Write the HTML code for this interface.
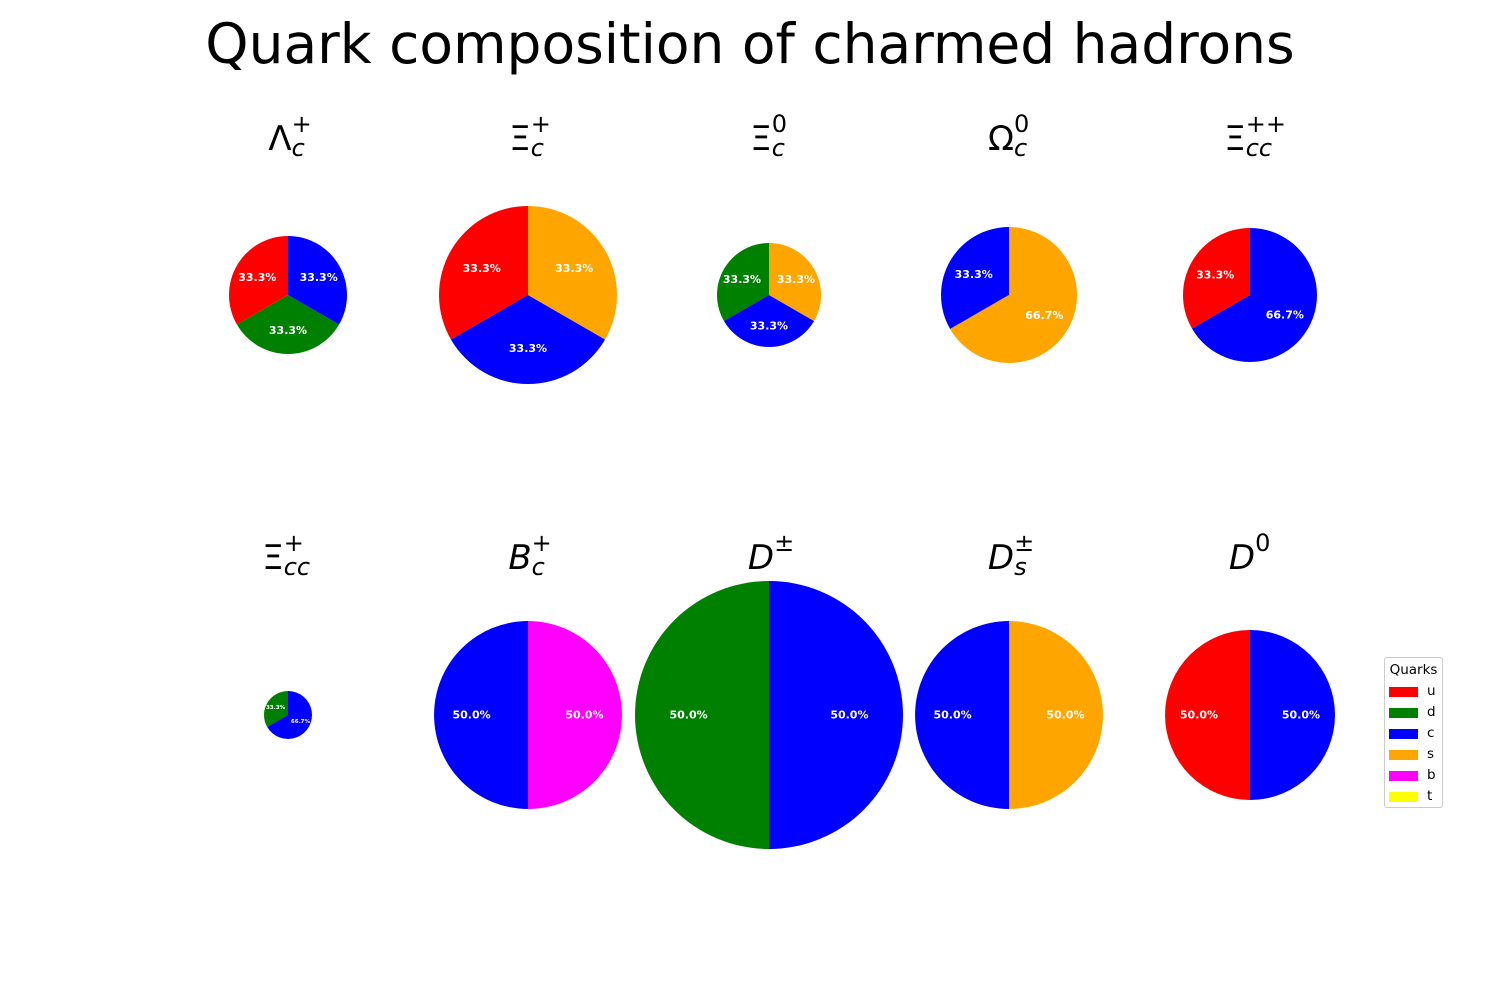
<!DOCTYPE html>
<html><head><meta charset="utf-8"><style>
body{margin:0;background:#fff;width:1500px;height:1000px;overflow:hidden;position:relative;font-family:"DejaVu Sans","Liberation Sans",sans-serif}
#title{position:absolute;left:0;width:1500px;top:12px;text-align:center;font-size:55px;color:#000}
.ht{position:absolute;width:200px;text-align:center;font-size:34px;color:#000;line-height:1}
.ht i{font-style:italic}
.ht .sup{position:absolute;top:-10px;font-size:24px}
.ht .sub{position:absolute;top:14px;font-size:24px;font-style:italic}
#legend{position:absolute;left:1384px;top:657px;width:57px;height:149px;border:1px solid #ccc;border-radius:3px;background:#fff;font-size:13.5px}
.le{position:absolute;left:4px;height:12px}
.le span.p{position:absolute;left:0;top:2px;width:29px;height:10px}
.le span.t{position:absolute;left:38px;top:-2px}
</style></head><body>
<div id="title">Quark composition of charmed hadrons</div>
<svg id="pies" width="1500" height="1000" style="position:absolute;left:0;top:0"></svg>
<div id="titles"></div>
<div id="legend">
<div style="position:absolute;left:0;width:57px;top:4px;text-align:center">Quarks</div>
</div>
<script>
const quarkNames=['u','d','c','s','b','t'];
const quarkColors=['#ff0000','#008000','#0000ff','#ffa500','#ff00ff','#ffff00'];
const hadronNames=['lambda-c-plus','xi-c-plus','xi-c-zero','omega-c-zero','xi-cc-plusplus','xi-cc-plus','b-c-plus','d-plusminus','d-s-plusminus','d-zero'];
const hadronTitles=['&Lambda;<span class="sup">+</span><span class="sub">c</span>','&Xi;<span class="sup">+</span><span class="sub">c</span>','&Xi;<span class="sup">0</span><span class="sub">c</span>','&Omega;<span class="sup">0</span><span class="sub">c</span>','&Xi;<span class="sup">++</span><span class="sub">cc</span>','&Xi;<span class="sup">+</span><span class="sub">cc</span>','<i>B</i><span class="sup">+</span><span class="sub">c</span>','<i>D</i><span class="sup">&plusmn;</span>','<i>D</i><span class="sup">&plusmn;</span><span class="sub">s</span>','<i>D</i><span class="sup">0</span>'];
const sliceQuarks=[[0,1,2],[0,2,3],[1,2,3],[2,3],[0,2],[1,2],[2,4],[1,2],[2,3],[0,2]];
const sliceCounts=[[1,1,1],[1,1,1],[1,1,1],[1,2],[1,2],[1,2],[1,1],[1,1],[1,1],[1,1]];
const pieSizes=[59,89,52,68,67,24,94,134,94,85];
const colX=[288,528,769,1009,1250], rowY=[295,715], titleY=[122,541];
const svg=document.getElementById('pies'),NS='http://www.w3.org/2000/svg';
hadronNames.forEach((name,h)=>{
  const cx=colX[h%5],cy=rowY[Math.floor(h/5)],r=pieSizes[h];
  const counts=sliceCounts[h],tot=counts.reduce((a,b)=>a+b,0);
  let a0=90;
  const g=document.createElementNS(NS,'g');
  
  
  svg.appendChild(g);
  counts.forEach((c,i)=>{
    const sweep=360*c/tot,a1=a0+sweep;
    const rad=d=>d*Math.PI/180;
    const x0=cx+r*Math.cos(rad(a0)),y0=cy-r*Math.sin(rad(a0));
    const x1=cx+r*Math.cos(rad(a1)),y1=cy-r*Math.sin(rad(a1));
    const p=document.createElementNS(NS,'path');
    p.setAttribute('d',`M${cx},${cy}L${x0},${y0}A${r},${r} 0 ${sweep>180?1:0} 0 ${x1},${y1}Z`);
    p.setAttribute('fill',quarkColors[sliceQuarks[h][i]]);
    
    
    g.appendChild(p);
    const m=rad((a0+a1)/2);
    const t=document.createElementNS(NS,'text');
    t.setAttribute('x',cx+0.6*r*Math.cos(m));t.setAttribute('y',cy-0.6*r*Math.sin(m));
    t.setAttribute('fill','#fff');t.setAttribute('font-weight','bold');
    t.setAttribute('font-size',r<40?5.5:11);t.setAttribute('text-anchor','middle');t.setAttribute('dominant-baseline','central');
    t.setAttribute('font-family','DejaVu Sans, Liberation Sans, sans-serif');
    t.textContent=(100*c/tot).toFixed(1)+'%';
    
    
    g.appendChild(t);
    a0=a1;
  });
  const d=document.createElement('div');
  d.className='ht';
  d.style.left=(cx-100)+'px';d.style.top=titleY[Math.floor(h/5)]+'px';
  d.innerHTML='<span style="position:relative;display:inline-block;padding-right:'+(hadronTitles[h].includes('cc')||hadronTitles[h].includes('++')?30:16)+'px">'+hadronTitles[h]+'</span>';
  
  
  document.getElementById('titles').appendChild(d);
});
const lg=document.getElementById('legend');
quarkNames.forEach((q,i)=>{
  const e=document.createElement('div');
  e.className='le';e.style.top=(27+i*21)+'px';
  e.innerHTML='<span class="p" style="background:'+quarkColors[i]+'"></span><span class="t">'+q+'</span>';
  
  
  lg.appendChild(e);
});
</script>
</body></html>
